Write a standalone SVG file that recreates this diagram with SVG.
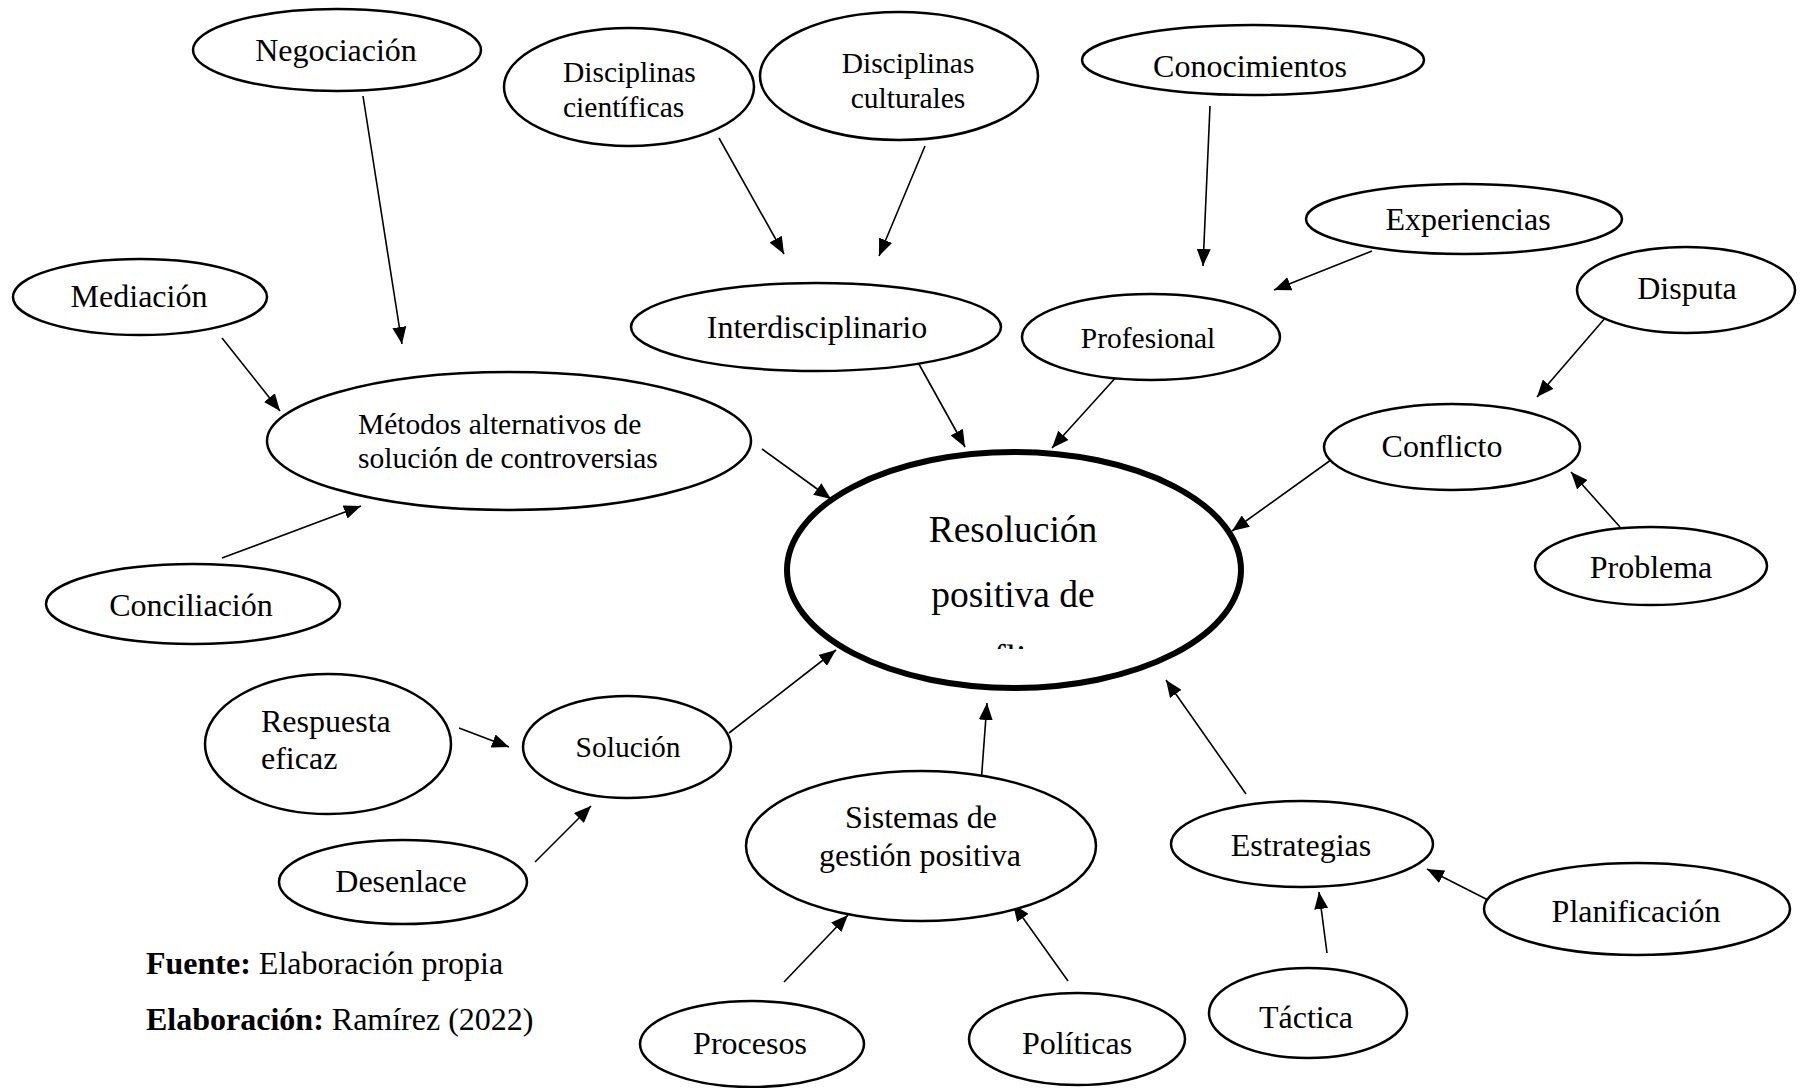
<svg xmlns="http://www.w3.org/2000/svg" width="1805" height="1088" viewBox="0 0 1805 1088">
<style>
  .n { fill: #fff; stroke: #000; stroke-width: 2.5; }
  .c { fill: #fff; stroke: #000; stroke-width: 6; }
  text { font-family: "Liberation Serif", "Times New Roman", serif; fill: #000; }
  .t { font-size: 32px; text-anchor: middle; }
  .s { font-size: 29.5px; }
  .m { text-anchor: middle; }
  .big { font-size: 37.5px; text-anchor: middle; }
  .f { font-size: 32px; }
  .e line { stroke: #000; stroke-width: 1.6; marker-end: url(#ah); }
</style>
<defs>
  <marker id="ah" markerUnits="userSpaceOnUse" markerWidth="18" markerHeight="14" refX="17" refY="7" orient="auto">
    <path d="M0,0 L17,7 L0,14 Z" fill="#000"/>
  </marker>
  <clipPath id="cclip"><rect x="780" y="450" width="470" height="199"/></clipPath>
</defs>
<rect width="1805" height="1088" fill="#fff"/>

<g id="connectors" class="e">
  <line x1="363" y1="96" x2="402" y2="344"/>
  <line x1="222" y1="338" x2="280" y2="411"/>
  <line x1="222" y1="558" x2="361" y2="506"/>
  <line x1="762" y1="449" x2="831" y2="499"/>
  <line x1="719" y1="138" x2="784" y2="254"/>
  <line x1="925" y1="146" x2="879" y2="256"/>
  <line x1="915" y1="357" x2="965" y2="447"/>
  <line x1="1210" y1="106" x2="1203" y2="266"/>
  <line x1="1372" y1="251" x2="1274" y2="290"/>
  <line x1="1128" y1="364" x2="1052" y2="448"/>
  <line x1="1606" y1="317" x2="1537" y2="397"/>
  <line x1="1342" y1="452" x2="1232" y2="531"/>
  <line x1="1620" y1="527" x2="1571" y2="472"/>
  <line x1="729" y1="733" x2="836" y2="650"/>
  <line x1="459" y1="728" x2="509" y2="747"/>
  <line x1="535" y1="862" x2="591" y2="806"/>
  <line x1="981" y1="784" x2="987" y2="703"/>
  <line x1="1246" y1="794" x2="1166" y2="680"/>
  <line x1="784" y1="982" x2="848" y2="915"/>
  <line x1="1068" y1="981" x2="1013" y2="904"/>
  <line x1="1327" y1="953" x2="1319" y2="892"/>
  <line x1="1490" y1="901" x2="1427" y2="869"/>
</g>

<g id="negociacion"><ellipse class="n" cx="337" cy="50" rx="144" ry="41"/><text class="t" x="336" y="61">Negociación</text></g>
<g id="disc-cientificas"><ellipse class="n" cx="629" cy="87" rx="125" ry="59"/><text class="s" x="563" y="82">Disciplinas</text><text class="s" x="563" y="117">científicas</text></g>
<g id="disc-culturales"><ellipse class="n" cx="899" cy="76" rx="139" ry="64"/><text class="s m" x="908" y="73">Disciplinas</text><text class="s m" x="908" y="108">culturales</text></g>
<g id="conocimientos"><ellipse class="n" cx="1253" cy="60" rx="171" ry="35"/><text class="t" x="1250" y="77">Conocimientos</text></g>
<g id="experiencias"><ellipse class="n" cx="1464" cy="219" rx="158" ry="35"/><text class="t" x="1468" y="230">Experiencias</text></g>
<g id="mediacion"><ellipse class="n" cx="140" cy="297" rx="127" ry="38"/><text class="t" x="139" y="307">Mediación</text></g>
<g id="interdisciplinario"><ellipse class="n" cx="816" cy="327" rx="185" ry="44"/><text class="t" x="817" y="338">Interdisciplinario</text></g>
<g id="profesional"><ellipse class="n" cx="1151" cy="337" rx="129" ry="43"/><text class="s m" x="1148" y="348">Profesional</text></g>
<g id="disputa"><ellipse class="n" cx="1686" cy="290" rx="109" ry="43"/><text class="t" x="1687" y="299">Disputa</text></g>
<g id="metodos"><ellipse class="n" cx="509" cy="441" rx="242" ry="69"/><text class="s" x="358" y="434">Métodos alternativos de</text><text class="s" x="358" y="468">solución de controversias</text></g>
<g id="conflicto"><ellipse class="n" cx="1452" cy="447" rx="128" ry="43"/><text class="t" x="1442" y="457">Conflicto</text></g>
<g id="resolucion"><ellipse class="c" cx="1014" cy="570" rx="227" ry="118"/>
  <g clip-path="url(#cclip)"><text class="big" x="1013" y="542">Resolución</text><text class="big" x="1013" y="607">positiva de</text><text class="big" x="1013" y="671">conflictos</text></g>
</g>
<g id="conciliacion"><ellipse class="n" cx="193" cy="604" rx="147" ry="40"/><text class="t" x="191" y="616">Conciliación</text></g>
<g id="problema"><ellipse class="n" cx="1651" cy="566" rx="116" ry="39"/><text class="t" x="1651" y="578">Problema</text></g>
<g id="respuesta"><ellipse class="n" cx="328" cy="744" rx="123" ry="70"/><text class="f" x="261" y="732">Respuesta</text><text class="f" x="261" y="769">eficaz</text></g>
<g id="solucion"><ellipse class="n" cx="627" cy="747" rx="104" ry="51"/><text class="s m" x="628" y="757">Solución</text></g>
<g id="sistemas"><ellipse class="n" cx="921" cy="846" rx="175" ry="75"/><text class="t" x="921" y="828">Sistemas de</text><text class="t" x="920" y="866">gestión positiva</text></g>
<g id="estrategias"><ellipse class="n" cx="1302" cy="844" rx="131" ry="43"/><text class="t" x="1301" y="856">Estrategias</text></g>
<g id="desenlace"><ellipse class="n" cx="403" cy="882" rx="124" ry="42"/><text class="t" x="401" y="892">Desenlace</text></g>
<g id="planificacion"><ellipse class="n" cx="1637" cy="909" rx="153" ry="46"/><text class="t" x="1636" y="922">Planificación</text></g>
<g id="tactica"><ellipse class="n" cx="1308" cy="1013" rx="99" ry="45"/><text class="t" x="1306" y="1028">Táctica</text></g>
<g id="procesos"><ellipse class="n" cx="752" cy="1044" rx="112" ry="43"/><text class="t" x="750" y="1054">Procesos</text></g>
<g id="politicas"><ellipse class="n" cx="1077" cy="1039" rx="108" ry="46"/><text class="t" x="1077" y="1054">Políticas</text></g>

<g id="footer">
  <text class="f" x="146" y="974"><tspan font-weight="bold">Fuente:</tspan> Elaboración propia</text>
  <text class="f" x="146" y="1030"><tspan font-weight="bold">Elaboración:</tspan> Ramírez (2022)</text>
</g>
</svg>
